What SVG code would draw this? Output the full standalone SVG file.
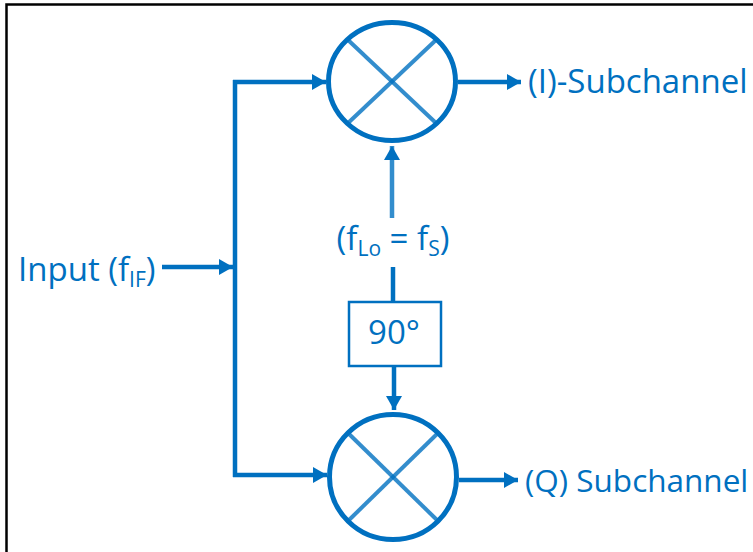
<svg xmlns="http://www.w3.org/2000/svg" width="753" height="552" viewBox="0 0 753 552">
<defs>
<style>
.ln{stroke:#0070C0;stroke-width:4.5;fill:none}
.mx{stroke:#0070C0;stroke-width:5;fill:none}
.x{stroke:#0070C0;stroke-width:4;stroke-opacity:0.8}
.t{font-family:"Open Sans","Noto Sans",sans-serif;font-size:33px;fill:#0070C0}
.s{font-size:21px}
</style>
<marker id="ah" markerUnits="userSpaceOnUse" markerWidth="18" markerHeight="18" refX="14" refY="9" orient="auto">
<path d="M0,1 L14,9 L0,17 Z" fill="#0070C0"/>
</marker>
</defs>
<rect x="0" y="0" width="753" height="552" fill="#fff"/>
<rect x="6.5" y="4.5" width="800" height="600" fill="none" stroke="#000" stroke-width="2.5"/>
<g id="connectors">
<line class="ln" x1="235" y1="80" x2="235" y2="477"/>
<line class="ln" x1="162" y1="267" x2="233" y2="267" marker-end="url(#ah)"/>
<line class="ln" x1="233" y1="82" x2="326" y2="82" marker-end="url(#ah)"/>
<line class="ln" x1="233" y1="475" x2="327" y2="475" marker-end="url(#ah)"/>
<line class="ln" x1="458" y1="82" x2="521" y2="82" marker-end="url(#ah)"/>
<line class="ln" x1="459" y1="480" x2="518" y2="480" marker-end="url(#ah)"/>
<line class="ln" x1="392" y1="218" x2="392" y2="146" marker-end="url(#ah)" stroke-opacity="0.8"/>
<line class="ln" x1="393" y1="267" x2="393" y2="302"/>
<line class="ln" x1="394" y1="366" x2="394" y2="410" marker-end="url(#ah)"/>
</g>
<g id="mixer-i">
<ellipse class="mx" cx="392" cy="81.5" rx="63.5" ry="59"/>
<line class="x" x1="347" y1="39" x2="437" y2="124"/>
<line class="x" x1="437" y1="39" x2="347" y2="124"/>
</g>
<g id="mixer-q">
<ellipse class="mx" cx="393" cy="477" rx="63.5" ry="62.5"/>
<line class="x" x1="348" y1="433" x2="438" y2="521"/>
<line class="x" x1="438" y1="433" x2="348" y2="521"/>
</g>
<g id="phase-shift">
<rect x="349" y="302" width="92" height="64" fill="#fff" stroke="#0070C0" stroke-width="2.5"/>
<text class="t" x="394" y="344" text-anchor="middle">90°</text>
</g>
<g id="input-label">
<text class="t" x="18" y="281">Input (f<tspan class="s" dy="6">IF</tspan><tspan dy="-6">)</tspan></text>
</g>
<g id="lo-label">
<text class="t" x="393" y="250" text-anchor="middle">(f<tspan class="s" dy="6">Lo</tspan><tspan dy="-6"> = f</tspan><tspan class="s" dy="6">S</tspan><tspan dy="-6">)</tspan></text>
</g>
<g id="i-label">
<text class="t" x="528" y="93">(I)-Subchannel</text>
</g>
<g id="q-label">
<text class="t" x="525" y="492" style="font-size:31.5px">(Q) Subchannel</text>
</g>
</svg>
